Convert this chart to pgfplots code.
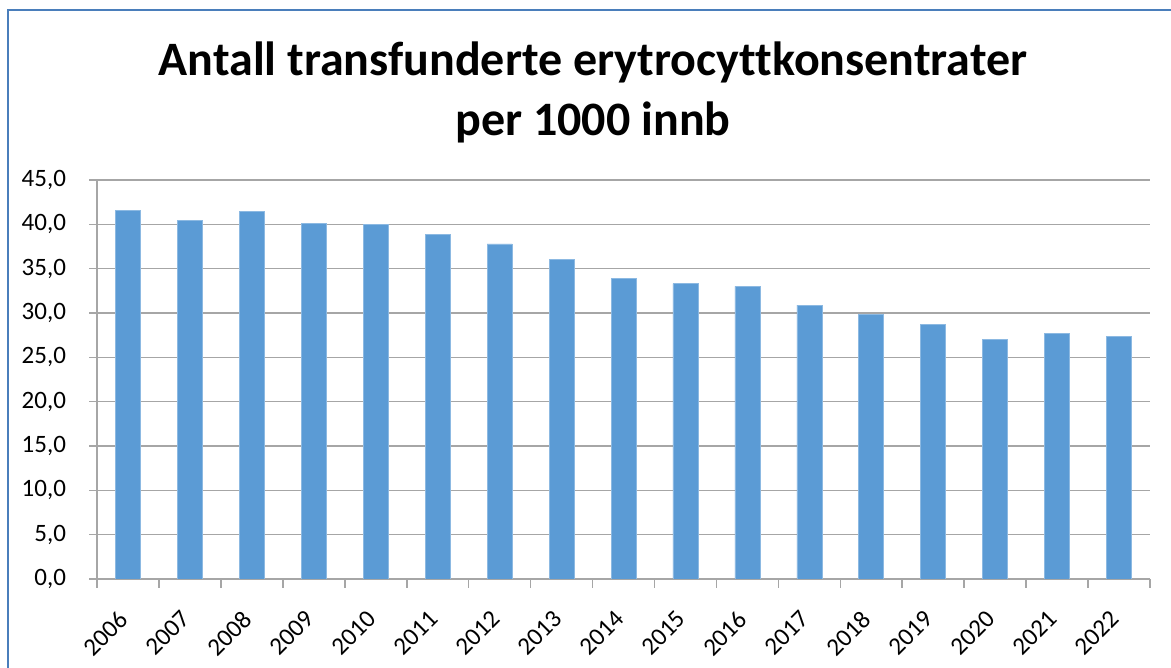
\documentclass[border=0pt]{standalone}
\usepackage{fontspec}
\setmainfont{Carlito}[Ligatures=NoCommon]
\usepackage{pgfplots}
\pgfplotsset{compat=1.18}
\definecolor{barblue}{HTML}{5B9BD5}
\definecolor{gridgray}{HTML}{A6A6A6}
\definecolor{frameblue}{HTML}{4A7EBB}
\newcommand{\yr}[1]{\rotatebox{45}{#1}}

\begin{document}
\begin{tikzpicture}
% page = 1171x668 px at 0.5pt per px, origin at the axis corner
\clip (-48.5pt,-44.5pt) rectangle (537pt,289.5pt);
\begin{axis}[
  at={(0,0)}, anchor=south west,
  scale only axis, width=526.5pt, height=199.5pt,
  ybar, bar width=12.5pt,
  xmin=-0.5, xmax=16.5, ymin=0, ymax=45,
  ytick={0,5,...,45},
  xtick={0,...,16},
  xticklabels={\yr{2006},\yr{2007},\yr{2008},\yr{2009},\yr{2010},\yr{2011},\yr{2012},\yr{2013},\yr{2014},\yr{2015},\yr{2016},\yr{2017},\yr{2018},\yr{2019},\yr{2020},\yr{2021},\yr{2022}},
  minor xtick={-0.5,0.5,...,16.5},
  major x tick style={draw=none},
  minor tick length=4.5pt, major tick length=4pt,
  tick align=outside,
  axis x line*=bottom, axis y line*=left,
  axis line style={gridgray, line width=0.8pt, -},
  tick style={gridgray, line width=0.8pt},
  ymajorgrids, grid style={gridgray, line width=0.8pt},
  /pgf/number format/.cd, use comma, fixed, fixed zerofill, precision=1, assume math mode=true,
  /pgfplots/.cd,
  yticklabel style={font=\fontsize{12.5}{14}\selectfont, xshift=-8pt},
  xticklabel style={font=\fontsize{12.5}{14}\selectfont, anchor=north east, inner sep=0pt, yshift=-11pt, xshift=1pt},
]
\addplot[fill=barblue, draw=barblue!70!white, line width=0.3pt] coordinates {
  (0,41.6) (1,40.4) (2,41.5) (3,40.1) (4,40.0) (5,38.9) (6,37.8) (7,36.0)
  (8,33.9) (9,33.3) (10,33.0) (11,30.9) (12,29.8) (13,28.7) (14,27.0)
  (15,27.7) (16,27.4)};
\end{axis}
\node[font=\fontsize{24}{30}\selectfont\bfseries, align=center] at (248pt,243.5pt)
  {Antall transfunderte erytrocyttkonsentrater\\per 1000 innb};
\draw[frameblue, line width=1pt] (-44.5pt,-60pt) -- (-44.5pt,284.5pt) -- (560pt,284.5pt);
\end{tikzpicture}
\end{document}
